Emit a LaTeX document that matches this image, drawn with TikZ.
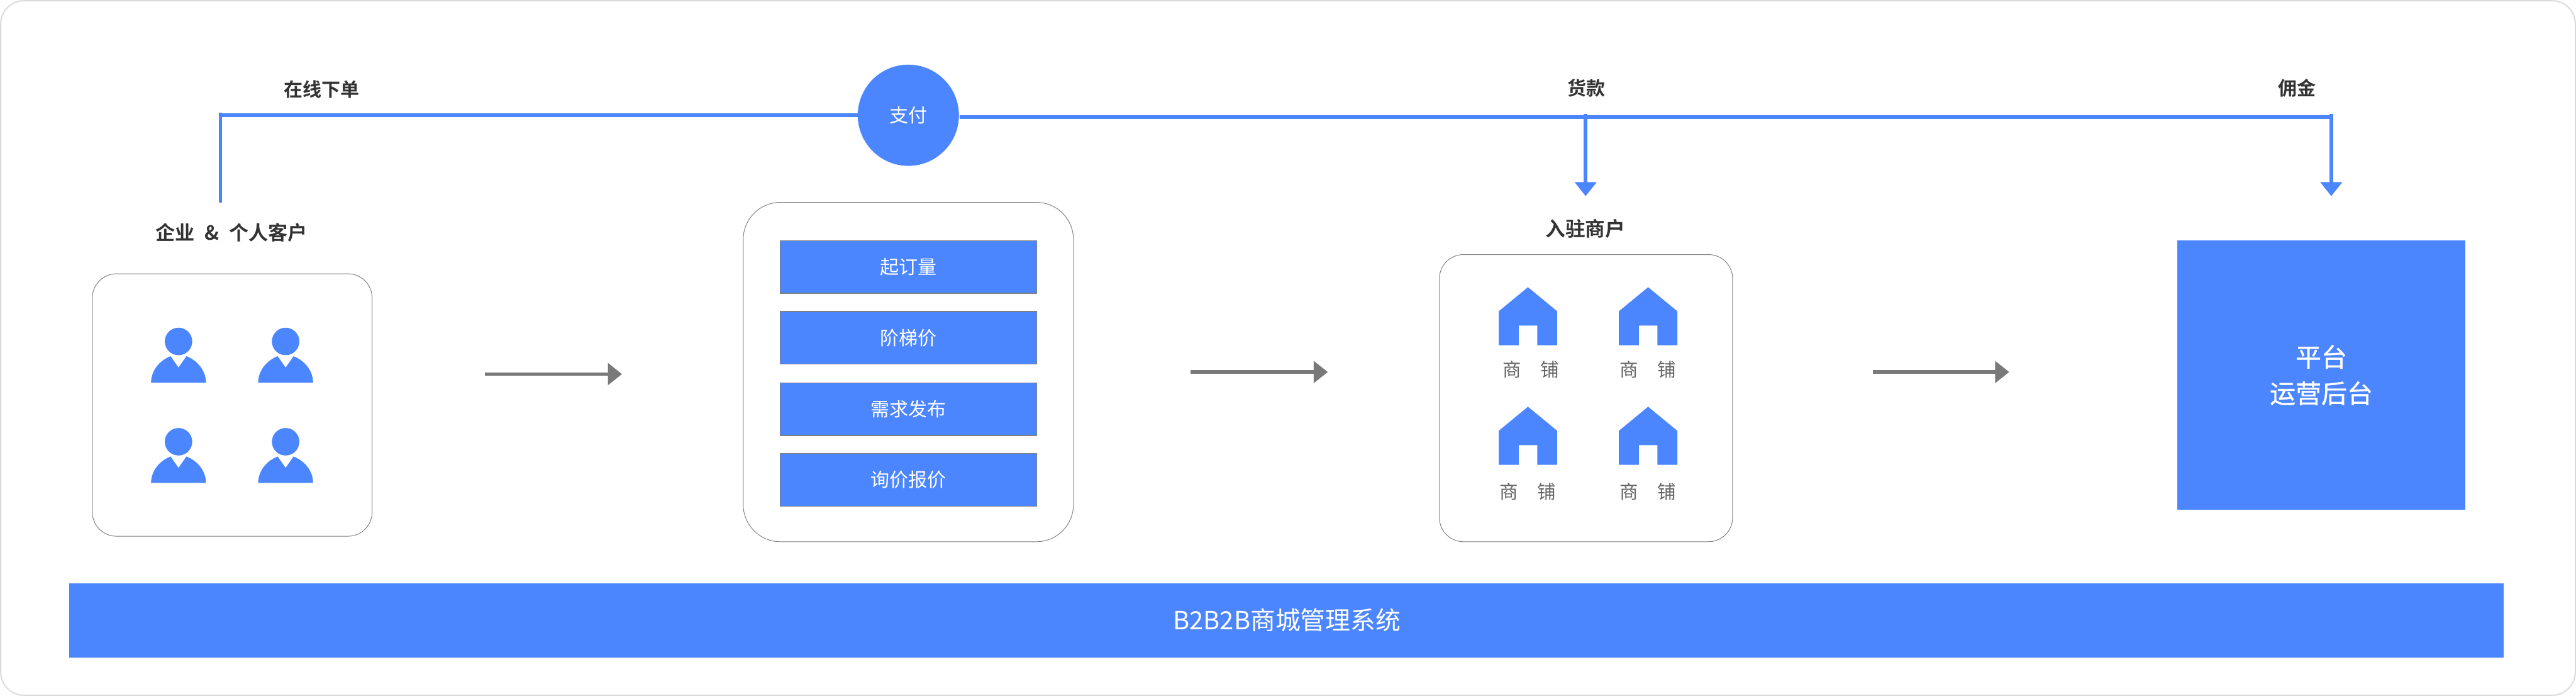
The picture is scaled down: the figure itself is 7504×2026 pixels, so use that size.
\documentclass[tikz,border=0pt]{standalone}
\usepackage{fontspec}
\setmainfont{Noto Sans CJK SC}
\newfontfamily\cjkreg{Noto Sans CJK SC}
\newfontfamily\cjkbold{Noto Sans CJK SC Bold}
\newfontfamily\cjkmed[FakeBold=0.9]{Noto Sans CJK SC}
\usetikzlibrary{arrows.meta}
\definecolor{brandblue}{HTML}{4C86FF}
\definecolor{arrowgrey}{HTML}{797979}
\definecolor{panelgrey}{HTML}{808080}
\definecolor{framegrey}{HTML}{D9D9D9}
\definecolor{inkdark}{HTML}{333333}
\definecolor{inkmid}{HTML}{666666}
\tikzset{
  x=0.1pt,y=-0.1pt,
  every node/.style={inner sep=0pt,outer sep=0pt},
  txtreg/.style={font=\cjkreg\fontsize{#1}{#1}\selectfont,text height=0.88*#1pt,text depth=0.12*#1pt},
  txtbold/.style={font=\cjkbold\fontsize{#1}{#1}\selectfont,text height=0.88*#1pt,text depth=0.12*#1pt},
  heading/.style={txtbold=5.5,text=inkdark},
  panel/.style={draw=panelgrey,line width=0.18pt,fill=white,rectangle},
  featurebox/.style={draw=panelgrey,line width=0.2pt,fill=brandblue,text=white,minimum width=74.8pt,minimum height=15.35pt,txtreg=5.5},
  shoptext/.style={txtreg=5.4,text=inkmid},
  blueline/.style={draw=brandblue,line width=1.05pt},
  bluearrow/.style={blueline,-{Triangle[length=4.1pt,width=6.2pt,fill=brandblue]}},
  greyarrow/.style={draw=arrowgrey,line width=1pt,-{Triangle[length=4.1pt,width=6.2pt,fill=arrowgrey]}},
  person/.pic={
    \fill[brandblue] (0,0) circle[radius=4pt];
    \fill[brandblue] (-80,120) .. controls (-80,85) and (-55,55) .. (-23,43) -- (0,76) -- (23,43)
       .. controls (55,55) and (80,85) .. (80,120) -- cycle;
  },
  house/.pic={
    \fill[brandblue] (0,0) -- (85,70) -- (85,169) -- (27,169) -- (27,112) -- (-27,112) -- (-27,169)
       -- (-85,169) -- (-85,70) -- cycle;
  }
}
\begin{document}
\begin{tikzpicture}
\useasboundingbox (0,0) rectangle (7504,2026);
\fill[white] (0,0) rectangle (7504,2026);
\draw[framegrey,line width=0.35pt,rounded corners=6.8pt] (2,2) rectangle (7502,2024);

% panels
\node[panel,minimum width=81.5pt,minimum height=76.4pt,rounded corners=7pt] (custpanel) at (676.5,1179) {};
\node[panel,minimum width=96.2pt,minimum height=98.8pt,rounded corners=10.8pt] (featpanel) at (2646,1083) {};
\node[panel,minimum width=85.4pt,minimum height=83.6pt,rounded corners=7pt] (shoppanel) at (4620,1159) {};

% top flow
\node[circle,fill=brandblue,draw=white,line width=0.1pt,minimum size=29.6pt,text=white,txtreg=5.5] (pay) at (2646,335.5) {支付};
\coordinate (custtop) at (642,328);
\coordinate (custbot) at (642,590);
\coordinate (custcorner) at (642,335.5);
\coordinate (payright) at (2796,341);
\coordinate (commcorner) at (6791,341);
\coordinate (goodstop) at (4619,332);
\coordinate (goodsend) at (4619,571);
\coordinate (commtop) at (6791,332);
\coordinate (commend) at (6791,571);
\draw[blueline] (custbot) -- (custtop);
\draw[blueline] (custcorner) -- (pay.west);
\draw[blueline] (payright) -- (commcorner);
\draw[bluearrow] (goodstop) -- (goodsend);
\draw[bluearrow] (commtop) -- (commend);

% labels
\node[heading] (lblorder) at (937,260) {在线下单};
\node[heading] (lblgoods) at (4621,256) {货款};
\node[heading] (lblcomm) at (6691,256) {佣金};
\node[heading,txtbold=5.7] (lblcust) at (675,678) {\spaceskip=2.9pt 企业 \& 个人客户};
\node[heading,txtbold=5.8] (lblshop) at (4618,665) {入驻商户};

% people
\pic at (520,994) {person};
\pic at (832,994) {person};
\pic at (520,1286) {person};
\pic at (832,1286) {person};

% features
\node[featurebox] (f1) at (2646,777) {起订量};
\node[featurebox] (f2) at (2646,983.5) {阶梯价};
\node[featurebox] (f3) at (2646,1191) {需求发布};
\node[featurebox] (f4) at (2646,1397) {询价报价};

% shops
\pic at (4451,836) {house};
\pic at (4801,836) {house};
\pic at (4451,1184) {house};
\pic at (4801,1184) {house};
\node[shoptext] (s1) at (4460,1076) {\spaceskip=5.6pt 商 铺};
\node[shoptext] (s2) at (4800,1076) {\spaceskip=5.6pt 商 铺};
\node[shoptext] (s3) at (4450,1432) {\spaceskip=5.6pt 商 铺};
\node[shoptext] (s4) at (4800,1432) {\spaceskip=5.6pt 商 铺};

% platform
\node[fill=brandblue,text=white,minimum width=84pt,minimum height=78.4pt,align=center,font=\cjkmed\fontsize{7.5}{10.6}\selectfont] (platform) at (6762,1092) {平台\\运营后台};

% process arrows
\coordinate (a1s) at (1412,1089);
\coordinate (a1e) at (1812,1089);
\coordinate (a2s) at (3468,1083);
\coordinate (a2e) at (3868,1083);
\coordinate (a3s) at (5456,1083);
\coordinate (a3e) at (5853,1083);
\draw[greyarrow] (a1s) -- (a1e);
\draw[greyarrow] (a2s) -- (a2e);
\draw[greyarrow] (a3s) -- (a3e);

% system bar
\node[fill=brandblue,minimum width=709.2pt,minimum height=21.6pt] (sysbar) at (3748,1806) {};
\node[text=white,txtreg=7.3] (systext) at (3749,1805) {B2B2B商城管理系统};
\end{tikzpicture}
\end{document}
